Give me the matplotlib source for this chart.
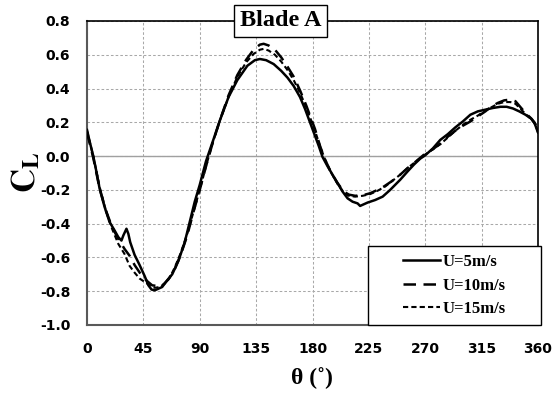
import matplotlib
matplotlib.use("Agg")
import matplotlib.pyplot as plt
from matplotlib.patches import Rectangle
from matplotlib.lines import Line2D

# ---------------- data ----------------
theta_u5 = [0, 2, 5, 8, 10, 14, 18, 22, 25, 27.5, 29, 31.5, 33, 34.5, 38, 42, 46, 49,
            51.5, 54, 57, 60, 64, 68, 73, 78, 82, 86, 90, 95, 101, 106, 113, 120, 128,
            134, 138, 143, 149, 155, 160, 165, 170, 174, 178, 181, 185, 188, 192, 196,
            200, 204, 208, 212, 216, 218, 221, 224, 230, 236, 242, 250, 256, 261, 266,
            270, 276, 282, 288, 294, 300, 306, 312, 318, 324, 330, 335, 340, 345, 350,
            354, 357, 360]
cl_u5 = [0.155, 0.09, 0.0, -0.11, -0.19, -0.30, -0.39, -0.44, -0.48, -0.50, -0.47,
         -0.43, -0.46, -0.51, -0.585, -0.645, -0.71, -0.765, -0.79, -0.795, -0.785,
         -0.775, -0.735, -0.70, -0.62, -0.51, -0.39, -0.27, -0.17, -0.03, 0.10, 0.21,
         0.35, 0.45, 0.535, 0.568, 0.575, 0.568, 0.545, 0.505, 0.465, 0.415, 0.35,
         0.28, 0.20, 0.14, 0.06, -0.005, -0.06, -0.11, -0.16, -0.21, -0.25, -0.27,
         -0.28, -0.295, -0.285, -0.275, -0.26, -0.24, -0.20, -0.14, -0.09, -0.05,
         -0.015, 0.005, 0.045, 0.096, 0.13, 0.17, 0.205, 0.245, 0.265, 0.275, 0.285,
         0.292, 0.292, 0.282, 0.265, 0.245, 0.225, 0.20, 0.14]

theta_u10 = [0, 5, 10, 15, 20, 25, 30, 34, 38, 43, 48, 52, 57, 61, 65, 70, 75, 80, 85,
             90, 95, 100, 106, 113, 120, 127, 133, 138, 141, 145, 150, 155, 160, 165,
             170, 175, 178, 182, 186, 190, 195, 200, 205, 209, 214, 220, 226, 232, 237,
             243, 250, 256, 262, 270, 276, 282, 288, 294, 300, 306, 312, 318, 323, 328,
             333, 338, 342, 346, 350, 355, 358, 360]
cl_u10 = [0.14, -0.01, -0.19, -0.32, -0.42, -0.49, -0.55, -0.59, -0.645, -0.70, -0.74,
          -0.765, -0.77, -0.76, -0.73, -0.67, -0.58, -0.47, -0.33, -0.20, -0.06, 0.07,
          0.21, 0.36, 0.48, 0.57, 0.63, 0.66, 0.665, 0.655, 0.63, 0.585, 0.53, 0.47,
          0.39, 0.30, 0.24, 0.16, 0.06, -0.02, -0.10, -0.16, -0.21, -0.228, -0.235,
          -0.232, -0.22, -0.20, -0.18, -0.15, -0.11, -0.07, -0.035, 0.015, 0.04, 0.075,
          0.115, 0.15, 0.18, 0.205, 0.235, 0.265, 0.295, 0.315, 0.33, 0.335, 0.325,
          0.29, 0.255, 0.22, 0.19, 0.14]

theta_u15 = [0, 5, 10, 15, 20, 25, 30, 34, 38, 42, 46, 50, 54, 58, 62, 66, 70, 75, 80,
             85, 90, 95, 100, 106, 113, 120, 127, 133, 138, 141, 145, 150, 155, 160,
             165, 170, 175, 178, 182, 186, 190, 195, 200, 205, 209, 214, 220, 226, 232,
             238, 244, 250, 256, 262, 270, 276, 282, 288, 294, 300, 306, 312, 318, 323,
             328, 333, 338, 342, 346, 350, 355, 358, 360]
cl_u15 = [0.15, 0.0, -0.18, -0.32, -0.43, -0.52, -0.58, -0.65, -0.69, -0.725, -0.745,
          -0.765, -0.78, -0.775, -0.755, -0.72, -0.66, -0.57, -0.46, -0.33, -0.20,
          -0.06, 0.07, 0.21, 0.35, 0.47, 0.555, 0.605, 0.63, 0.635, 0.625, 0.60, 0.56,
          0.51, 0.45, 0.375, 0.29, 0.23, 0.15, 0.06, -0.02, -0.10, -0.165, -0.215,
          -0.235, -0.24, -0.235, -0.225, -0.205, -0.18, -0.145, -0.11, -0.07, -0.035,
          0.01, 0.04, 0.07, 0.11, 0.15, 0.185, 0.215, 0.24, 0.27, 0.29, 0.31, 0.32,
          0.32, 0.31, 0.28, 0.25, 0.215, 0.185, 0.14]

labels = ["U=5m/s", "U=10m/s", "U=15m/s"]
x_ticks = [0, 45, 90, 135, 180, 225, 270, 315, 360]
y_ticks = [-1.0, -0.8, -0.6, -0.4, -0.2, 0.0, 0.2, 0.4, 0.6, 0.8]
title_text = "Blade A"
xlabel_text = "θ (˚)"

# ---------------- figure ----------------
W, H = 559, 396
fig = plt.figure(figsize=(W / 100, H / 100), dpi=100)
ax = fig.add_axes([87 / W, 1 - 325 / H, (538 - 87) / W, (325 - 21) / H])

ax.set_xlim(0, 360)
ax.set_ylim(-1.0, 0.8)
ax.set_xticks(x_ticks)
ax.set_yticks(y_ticks)
ax.set_yticklabels([f"{v:.1f}" for v in y_ticks])
ax.tick_params(length=0, pad=12)
for lab in ax.get_xticklabels() + ax.get_yticklabels():
    lab.set_fontfamily("DejaVu Sans")
    lab.set_fontweight("bold")
    lab.set_fontsize(10)

ax.grid(True, color="#a8a8a8", linestyle=(0, (2.5, 2)), linewidth=0.75)
ax.set_axisbelow(True)
ax.axhline(0, color="#a0a0a0", linewidth=1.0, zorder=1)

for s in ["left", "bottom"]:
    ax.spines[s].set_color("#595959")
    ax.spines[s].set_linewidth(1.5)
for s in ["top", "right"]:
    ax.spines[s].set_color("black")
    ax.spines[s].set_linewidth(1.2)

ax.plot(theta_u5, cl_u5, color="black", linewidth=1.8, linestyle="-", zorder=3)
ax.plot(theta_u10, cl_u10, color="black", linewidth=1.8, linestyle=(0, (5, 3)), zorder=3)
ax.plot(theta_u15, cl_u15, color="black", linewidth=1.5, linestyle=(0, (2.5, 1.5)), zorder=3)

serif = "Liberation Serif"

# title box
ax.text((280.5 - 87) / (538 - 87), 1.0, title_text, transform=ax.transAxes,
        ha="center", va="center", fontsize=17.5, fontweight="bold", family=serif,
        bbox=dict(boxstyle="square,pad=0.22", facecolor="white", edgecolor="black",
                  linewidth=1.0), zorder=10)

# legend frame
rect = Rectangle((368 / W, 1 - 325 / H), (541 - 368) / W, (325 - 246) / H,
                 transform=fig.transFigure, facecolor="white", edgecolor="black",
                 linewidth=1.0, zorder=20, clip_on=False)
fig.patches.append(rect)
handles = [Line2D([], [], color="black", linewidth=1.8, linestyle="-"),
           Line2D([], [], color="black", linewidth=1.8, linestyle=(0, (5, 3))),
           Line2D([], [], color="black", linewidth=1.5, linestyle=(0, (2.5, 1.5)))]
leg = fig.legend(handles, labels, loc="center",
                 bbox_to_anchor=((368 + 541) / 2 / W, 1 - (246 + 325) / 2 / H),
                 bbox_transform=fig.transFigure, frameon=False,
                 prop=dict(family=serif, weight="bold", size=12),
                 handlelength=2.2, handletextpad=0.2, labelspacing=0.45)
leg.set_zorder(25)

# axis labels
fig.text(312 / W, 1 - 378 / H, xlabel_text, ha="center", va="center",
         fontsize=17, fontweight="bold", family=serif)
plt.rcParams["mathtext.fontset"] = "stix"
fig.text(26 / W, 1 - 172 / H, r"$\mathbf{C}_\mathbf{L}$", ha="center", va="center",
         rotation=90, fontsize=24)

fig.savefig("out.png", dpi=100)
